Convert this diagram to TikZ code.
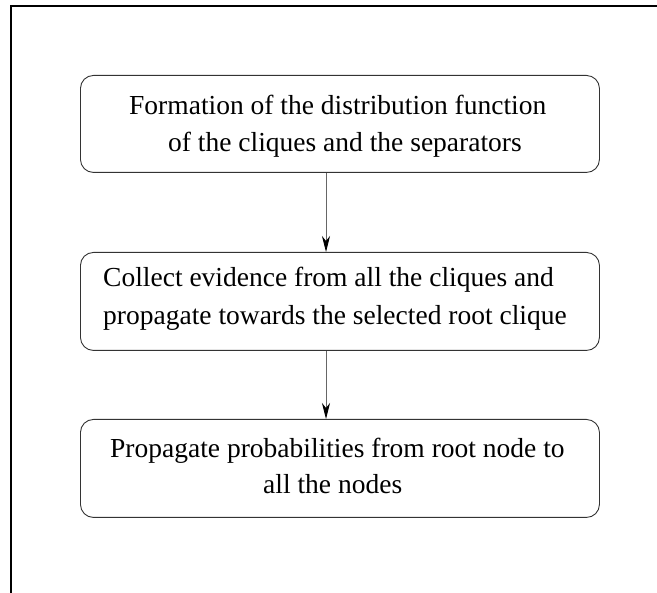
\documentclass[tikz,border=0pt]{standalone}
\usepackage{fontspec}
\setmainfont{Liberation Serif}
\usetikzlibrary{arrows.meta}
\begin{document}
\begin{tikzpicture}[x=1pt,y=-1pt,
  stepbox/.style={draw=black!80, line width=0.9pt, rounded corners=13pt, minimum width=519pt, inner sep=0pt, anchor=north west},
  txt/.style={anchor=base west, inner sep=0pt, font=\fontsize{27.5}{33}\selectfont},
  conn/.style={draw=black!60, line width=0.9pt, -{Stealth[length=16pt,width=8pt,inset=5pt,black]}},
  frame/.style={draw=black, line width=1.4pt}]
\useasboundingbox (0,0) rectangle (657,593);
\coordinate (ftl) at (11,6);
\coordinate (ftr) at (657,6);
\coordinate (fbl) at (11,593);
\draw[frame] (ftr) -- (ftl) -- (fbl);
\node[stepbox, minimum height=97pt] (b1) at (80,75) {};
\node[stepbox, minimum height=98pt] (b2) at (80,252) {};
\node[stepbox, minimum height=98pt] (b3) at (80,419) {};
\node[txt] (t11) at (129,115) {Formation of the distribution function};
\node[txt] (t12) at (168,152) {of the cliques and the separators};
\node[txt] (t21) at (103,287) {Collect evidence from all the cliques and};
\node[txt] (t22) at (103,325) {propagate towards the selected root clique};
\node[txt] (t31) at (110,458) {Propagate probabilities from root node to};
\node[txt] (t32) at (263,494) {all the nodes};
\coordinate (a1s) at (326,172);
\coordinate (a1e) at (326,252);
\coordinate (a2s) at (326,350);
\coordinate (a2e) at (326,419);
\draw[conn] (b1.south -| a1s) -- (b2.north -| a1e);
\draw[conn] (b2.south -| a2s) -- (b3.north -| a2e);
\end{tikzpicture}
\end{document}
